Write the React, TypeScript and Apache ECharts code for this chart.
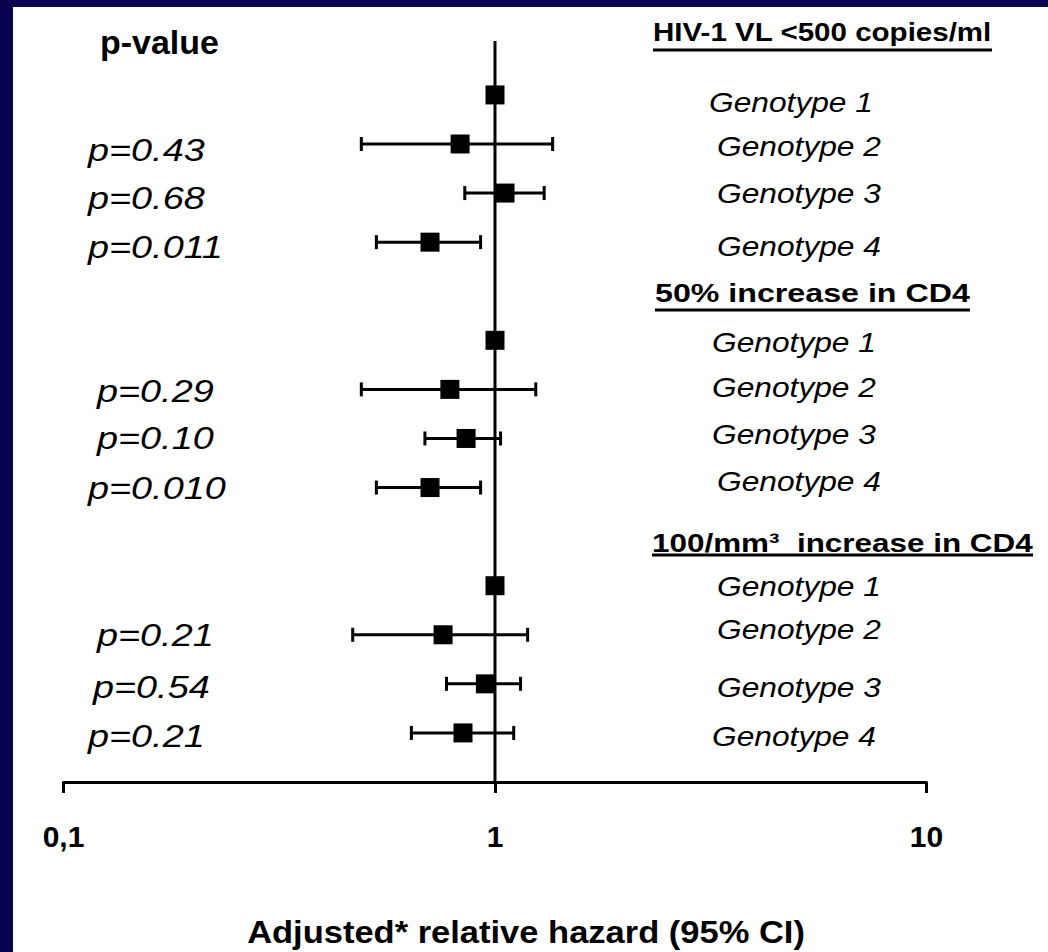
import React, { useEffect, useRef } from "react";
import * as echarts from "echarts";

const genotypes = ["Genotype 1", "Genotype 2", "Genotype 3", "Genotype 4"];
const outcomes = ["HIV-1 VL <500 copies/ml", "50% increase in CD4", "100/mm³  increase in CD4"];
const hazard = [1.0, 0.83, 1.055, 0.707, 1.0, 0.786, 0.857, 0.707, 1.0, 0.758, 0.95, 0.843];
const lower = [null, 0.49, 0.851, 0.531, null, 0.49, 0.688, 0.531, null, 0.468, 0.772, 0.64];
const upper = [null, 1.36, 1.3, 0.926, null, 1.243, 1.03, 0.926, null, 1.19, 1.146, 1.105];
const pValues = ["", "p=0.43", "p=0.68", "p=0.011", "", "p=0.29", "p=0.10", "p=0.010", "", "p=0.21", "p=0.54", "p=0.21"];
const xTickLabels: Record<string, string> = { "0.1": "0,1", "1": "1", "10": "10" };
const pHeader = "p-value";
const axisTitle = "Adjusted* relative hazard (95% CI)";

const FONT = "Liberation Sans, Arial, Helvetica, sans-serif";
const NARROW = "Liberation Sans Narrow, Arial Narrow, Liberation Sans, sans-serif";
const NAVY = "#0a0450";
const W = 1048;
const H = 952;

// layout (pixels)
const pX = [88, 88, 88, 88, 97, 97, 97, 88, 97, 97, 93, 88];
const pDy = [0, 6, 5, 5, 0, 2, 0, 1, 0, 0, 3, 3];
const gX = [709, 717, 717, 717, 712, 712, 712, 717, 717, 717, 717, 712];
const gDy = [7, 2, 0, 4, 2, -2, -4, -6, 0, -6, 3, 3];
const headerPos = [
  { x: 653, y: 32, w: 339, ul: 50 },
  { x: 655, y: 293, w: 315, ul: 310 },
  { x: 652, y: 543, w: 381, ul: 555 },
];

const rowOf = (i: number) => Math.floor(i / 4) * 5 + (i % 4);

let measureCtx: CanvasRenderingContext2D | null = null;
function textWidth(text: string, font: string) {
  if (!measureCtx) measureCtx = document.createElement("canvas").getContext("2d");
  measureCtx!.font = font;
  return measureCtx!.measureText(text).width;
}

export default function App() {
  const ref = useRef<HTMLDivElement>(null);
  useEffect(() => {
    if (!ref.current) return;
    const chart = echarts.init(ref.current, null, { renderer: "svg" });

    const errData: number[][] = [];
    hazard.forEach((_, i) => {
      if (lower[i] != null && upper[i] != null) errData.push([lower[i] as number, upper[i] as number, rowOf(i)]);
    });
    const ptData = hazard.map((v, i) => [v, rowOf(i)]);

    chart.setOption({
      animation: false,
      backgroundColor: "#ffffff",
      grid: { left: 63.5, right: W - 926.5, top: 21.3, bottom: H - 782, containLabel: false },
      xAxis: {
        type: "log",
        logBase: 10,
        min: 0.1,
        max: 10,
        axisLine: { show: true, onZero: false, lineStyle: { color: "#000", width: 3 } },
        axisTick: { show: true, length: 11, lineStyle: { color: "#000", width: 3 } },
        minorTick: { show: false },
        splitLine: { show: false },
        axisLabel: {
          show: true,
          margin: 39,
          color: "#000",
          fontFamily: NARROW,
          fontWeight: "bold",
          fontSize: 30,
          formatter: (v: number) => xTickLabels[String(v)] ?? String(v),
        },
      },
      yAxis: { type: "value", inverse: true, min: -1.5, max: 14, show: false },
      series: [
        {
          type: "line",
          data: [[1, -1.1], [1, 14]],
          symbol: "none",
          lineStyle: { color: "#000", width: 3 },
          silent: true,
          z: 1,
        },
        {
          type: "custom",
          data: errData,
          encode: { x: [0, 1], y: 2 },
          z: 2,
          renderItem: (params: any, api: any) => {
            const r = api.value(2);
            const a = api.coord([api.value(0), r]);
            const b = api.coord([api.value(1), r]);
            const st = { stroke: "#000", lineWidth: 3 };
            return {
              type: "group",
              children: [
                { type: "line", shape: { x1: a[0], y1: a[1], x2: b[0], y2: b[1] }, style: st },
                { type: "line", shape: { x1: a[0], y1: a[1] - 7, x2: a[0], y2: a[1] + 7 }, style: st },
                { type: "line", shape: { x1: b[0], y1: b[1] - 7, x2: b[0], y2: b[1] + 7 }, style: st },
              ],
            };
          },
        },
        {
          type: "scatter",
          data: ptData,
          symbol: "rect",
          symbolSize: 19,
          itemStyle: { color: "#000", opacity: 1 },
          z: 3,
        },
      ],
    });

    const yPix = (r: number) => (chart.convertToPixel({ yAxisIndex: 0 }, r) as number);
    const graphics: any[] = [
      { type: "rect", shape: { x: 0, y: 0, width: W, height: 7 }, style: { fill: NAVY }, z: 10 },
      { type: "rect", shape: { x: 0, y: 0, width: 13, height: H }, style: { fill: NAVY }, z: 10 },
    ];

    const mk = (text: string, x: number, y: number, size: number, weight: string, style: string, targetW: number | null, sx?: number, align = "left", family = FONT) => {
      const font = `${style} ${weight} ${size}px ${family}`;
      const scaleX = targetW ? targetW / textWidth(text, font) : sx ?? 1;
      return {
        type: "text",
        x,
        y,
        scaleX,
        z: 20,
        style: {
          text,
          fill: "#000",
          fontFamily: family,
          fontSize: size,
          fontWeight: weight,
          fontStyle: style,
          textAlign: align,
          textVerticalAlign: "middle",
        },
      };
    };

    graphics.push(mk(pHeader, 100, 43, 33, "bold", "normal", 119));

    hazard.forEach((_, i) => {
      const y = yPix(rowOf(i));
      graphics.push(mk(genotypes[i % 4], gX[i], y + gDy[i], 28, "normal", "italic", 164));
      if (pValues[i]) {
        const base = 31;
        graphics.push(mk(pValues[i], pX[i], y + pDy[i], base, "normal", "italic", null, 1.22));
      }
    });

    outcomes.forEach((t, g) => {
      const hp = headerPos[g];
      graphics.push(mk(t, hp.x, hp.y, 26, "bold", "normal", hp.w));
      graphics.push({
        type: "rect",
        shape: { x: hp.x, y: hp.ul - 1.5, width: hp.w, height: 3 },
        style: { fill: "#000" },
        z: 20,
      });
    });

    graphics.push(mk(axisTitle, 526, 932, 32, "bold", "normal", 558, undefined, "center"));

    chart.setOption({ graphic: graphics });

    return () => chart.dispose();
  }, []);

  return <div ref={ref} style={{ position: "absolute", left: 0, top: 0, width: W, height: H }} />;
}
